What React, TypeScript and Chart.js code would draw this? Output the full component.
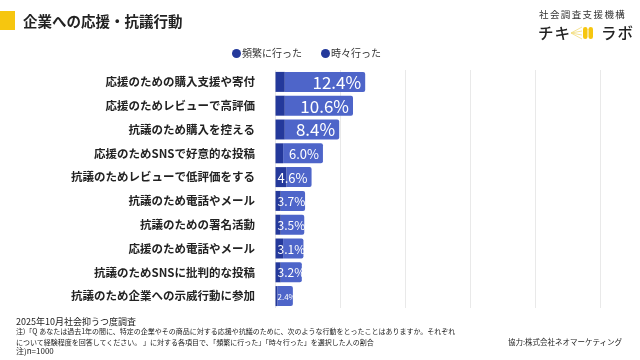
import React, { useEffect, useRef } from "react";
import { Chart, registerables } from "chart.js";

Chart.register(...registerables);

const categories = [
  "応援のための購入支援や寄付",
  "応援のためレビューで高評価",
  "抗議のため購入を控える",
  "応援のためSNSで好意的な投稿",
  "抗議のためレビューで低評価をする",
  "抗議のため電話やメール",
  "抗議のための署名活動",
  "応援のため電話やメール",
  "抗議のためSNSに批判的な投稿",
  "抗議のため企業への示威行動に参加",
];
const frequent = [1.2, 1.2, 1.2, 1.0, 1.4, 0.7, 0.7, 1.0, 0.7, 0.3];
const sometimes = [9.9, 8.4, 6.7, 4.9, 3.1, 3.0, 2.9, 2.5, 2.6, 1.9];
const shownTotals = [12.4, 10.6, 8.4, 6.0, 4.6, 3.7, 3.5, 3.1, 3.2, 2.4];
const seriesNames = ["頻繁に行った", "時々行った"];
const axisMax = 40;
const axisStep = 8;

const FONT = '"Noto Sans CJK JP", "Noto Sans", sans-serif';
const DARK = "#24399b";
const LIGHT = "#4e65c9";

function labelSize(v: number) {
  if (v >= 8) return 17;
  if (v >= 4.5) return 13;
  if (v >= 3) return 12;
  return 8;
}

const totalLabelPlugin = {
  id: "totalLabels",
  afterDatasetsDraw(chart: any) {
    const ctx = chart.ctx;
    const meta = chart.getDatasetMeta(1);
    const meta0 = chart.getDatasetMeta(0);
    ctx.save();
    ctx.fillStyle = "#ffffff";
    ctx.textBaseline = "middle";
    ctx.textAlign = "right";
    meta.data.forEach((bar: any, i: number) => {
      const v = shownTotals[i];
      const size = labelSize(v);
      ctx.font = `normal ${size}px ${FONT}`;
      const text = v.toFixed(1) + "%";
      const w = ctx.measureText(text).width;
      const start = meta0.data[i].base;
      const end = bar.x;
      const x = Math.max(end - 4, start + w + 2);
      ctx.fillText(text, x, bar.y + 0.5);
    });
    ctx.restore();
  },
};

export default function App() {
  const ref = useRef<HTMLCanvasElement | null>(null);

  useEffect(() => {
    if (!ref.current) return;
    const chart = new Chart(ref.current, {
      type: "bar",
      data: {
        labels: categories,
        datasets: [
          {
            label: seriesNames[0],
            data: frequent,
            backgroundColor: DARK,
            borderWidth: 0,
            barPercentage: 0.84,
            categoryPercentage: 1,
          },
          {
            label: seriesNames[1],
            data: sometimes,
            backgroundColor: LIGHT,
            borderWidth: 0,
            borderRadius: 2,
            borderSkipped: "start",
            barPercentage: 0.84,
            categoryPercentage: 1,
          },
        ],
      },
      options: {
        indexAxis: "y",
        animation: false,
        responsive: false,
        maintainAspectRatio: false,
        layout: { padding: { top: 70, right: 40, bottom: 52, left: 0 } },
        plugins: {
          legend: { display: false },
          tooltip: { enabled: false },
        },
        scales: {
          x: {
            stacked: true,
            min: 0,
            max: axisMax,
            ticks: { display: false, stepSize: axisStep },
            grid: { color: "#e9e9e9", lineWidth: 1, drawTicks: false },
            border: { display: false },
            afterFit(scale: any) {
              scale.height = 0;
            },
          },
          y: {
            stacked: true,
            grid: { display: false, drawTicks: false },
            border: { display: false },
            ticks: {
              color: "#222222",
              padding: 20,
              font: { family: FONT, size: 11.5, weight: "bold" },
            },
            afterFit(scale: any) {
              scale.width = 275;
            },
          },
        },
      },
      plugins: [totalLabelPlugin],
    });
    return () => chart.destroy();
  }, []);

  const abs = (extra: React.CSSProperties): React.CSSProperties => ({
    position: "absolute",
    whiteSpace: "nowrap",
    lineHeight: 1,
    ...extra,
  });

  return (
    <div
      style={{
        position: "fixed",
        left: 0,
        top: 0,
        width: 640,
        height: 360,
        background: "#ffffff",
        fontFamily: FONT,
        color: "#222",
        overflow: "hidden",
      }}
    >
      <canvas ref={ref} width={640} height={360} style={{ position: "absolute", left: 0, top: 0, width: 640, height: 360 }} />
      <div style={abs({ left: 0, top: 11, width: 15, height: 19, background: "#f6c60f" })} />
      <div style={abs({ left: 23, top: 14, fontSize: 14.5, fontWeight: 700, color: "#222" })}>企業への応援・抗議行動</div>

      <div style={abs({ left: 539, top: 10, fontSize: 9.5, letterSpacing: 1.4, color: "#333" })}>社会調査支援機構</div>
      <div style={abs({ left: 538, top: 25, fontSize: 15.5, fontWeight: 500, color: "#222", letterSpacing: 1 })}>チキ</div>
      <svg style={{ position: "absolute", left: 570, top: 25 }} width={24} height={16} viewBox="0 0 24 16">
        <line x1="1" y1="8" x2="12" y2="2" stroke="#f3dc7a" strokeWidth="0.8" />
        <line x1="1" y1="8" x2="12" y2="6" stroke="#f3dc7a" strokeWidth="0.8" />
        <line x1="1" y1="8" x2="12" y2="10" stroke="#f3dc7a" strokeWidth="0.8" />
        <line x1="1" y1="8" x2="12" y2="14" stroke="#f3dc7a" strokeWidth="0.8" />
        <rect x="13" y="2" width="4.5" height="12" rx="2.2" fill="#f6c60f" />
        <rect x="18.5" y="2" width="4.5" height="12" rx="2.2" fill="#f6c60f" />
      </svg>
      <div style={abs({ left: 601, top: 25, fontSize: 15.5, fontWeight: 500, color: "#222", letterSpacing: 1 })}>ラボ</div>

      <div style={abs({ left: 232, top: 48, fontSize: 10, color: "#333", display: "flex", alignItems: "center" })}>
        <span style={{ display: "inline-block", width: 9, height: 9, borderRadius: "50%", background: DARK, marginRight: 1 }} />
        {seriesNames[0]}
      </div>
      <div style={abs({ left: 321, top: 48, fontSize: 10, color: "#333", display: "flex", alignItems: "center" })}>
        <span style={{ display: "inline-block", width: 9, height: 9, borderRadius: "50%", background: DARK, marginRight: 1 }} />
        {seriesNames[1]}
      </div>

      <div style={abs({ left: 16, top: 317, fontSize: 9, color: "#222" })}>2025年10月社会抑うつ度調査</div>
      <div style={abs({ left: 16, top: 328, fontSize: 7, color: "#222" })}>
        注)「Q あなたは過去1年の間に、特定の企業やその商品に対する応援や抗議のために、次のような行動をとったことはありますか。それぞれ
      </div>
      <div style={abs({ left: 16, top: 338.5, fontSize: 7, color: "#222" })}>
        について経験程度を回答してください。 」に対する各項目で、「頻繁に行った」「時々行った」を選択した人の割合
      </div>
      <div style={abs({ left: 16, top: 347, fontSize: 8, color: "#222" })}>注)n=1000</div>
      <div style={abs({ left: 508, top: 338, fontSize: 7.5, color: "#222" })}>協力:株式会社ネオマーケティング</div>
    </div>
  );
}
